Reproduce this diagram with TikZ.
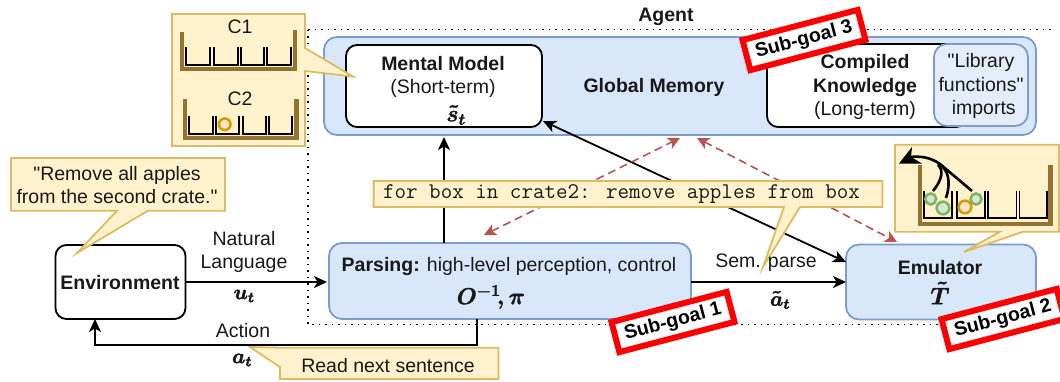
\RequirePackage{fix-cm}
\documentclass[tikz,border=0pt]{standalone}
\usepackage{amsmath,amsbsy}
\usepackage{fontspec}
\setmainfont{Liberation Sans}[Ligatures=TeXOff]
\usetikzlibrary{arrows.meta}
\definecolor{bluefill}{HTML}{D9E7FB}
\definecolor{bluestroke}{HTML}{7C9CCB}
\definecolor{libfill}{HTML}{E5EDFB}
\definecolor{notefill}{HTML}{FFF2CC}
\definecolor{notestroke}{HTML}{DDBB62}
\definecolor{wood}{HTML}{947230}
\definecolor{reddash}{HTML}{B85450}
\definecolor{greenfill}{HTML}{D5E8D4}
\definecolor{greenstroke}{HTML}{82B366}
\definecolor{orangefill}{HTML}{FFE6CC}
\definecolor{orangestroke}{HTML}{D79B00}
\definecolor{goalred}{HTML}{FF0000}
\newcommand{\fs}{\fontsize{19.5}{23.4}\selectfont}
\newcommand{\fatm}[1]{\special{pdf:code 2 Tr 0.4 w}#1\special{pdf:code 0 Tr 1 w}}
\tikzset{
  every node/.style={inner sep=0pt,outer sep=0pt,align=center,font=\fs,text=black!90},
  box/.style={draw=black,line width=1.8pt,fill=white,rounded corners=11pt},
  bluebox/.style={draw=bluestroke,line width=1.8pt,fill=bluefill,rounded corners=13pt},
  libbox/.style={draw=bluestroke,line width=1.8pt,fill=libfill,rounded corners=13pt},
  arr/.style={draw=black,line width=1.8pt,-{Stealth[length=13pt,width=12pt,inset=3.5pt]}},
  arrboth/.style={draw=black,line width=1.8pt,{Stealth[length=13pt,width=12pt,inset=3.5pt]}-{Stealth[length=13pt,width=12pt,inset=3.5pt]}},
  reddashed/.style={draw=reddash,line width=1.6pt,dash pattern=on 8pt off 5pt,{Stealth[length=12pt,width=12pt,inset=3pt]}-{Stealth[length=12pt,width=12pt,inset=3pt]}},
  note/.style={draw=notestroke,line width=1.8pt,fill=notefill},
  crate/.style={draw=wood,line width=4.5pt,miter limit=10},
  slot/.style={draw=black,line width=1.2pt},
  greenball/.style={draw=greenstroke,line width=2.6pt,fill=greenfill},
  orangeball/.style={draw=orangestroke,line width=2.6pt,fill=orangefill},
  goal/.style={draw=goalred,line width=6pt,fill=white,minimum width=119pt,minimum height=31pt,rotate=14.7,font=\bfseries\fs,text=black},
  curve/.style={draw=black,line width=2.6pt},
}
\begin{document}
\begin{tikzpicture}[x=1pt,y=-1pt]
\clip (0,0) rectangle (1060,381);
\fill[white] (0,0) rectangle (1060,381);

% agent frame
\draw[line width=1.4pt,dash pattern=on 1.5pt off 5pt] (308,29.5) -- (1055,29.5);
\draw[line width=1.4pt,dash pattern=on 1.5pt off 5pt] (308,29.5) -- (308,324.5) -- (1055,324.5);
\node (agent) at (666,17) {\bfseries Agent};

% boxes
\node[bluebox,minimum width=712pt,minimum height=98pt] (gm) at (680,86) {};
\node[box,minimum width=196pt,minimum height=82pt] (mental) at (444,86) {};
\node[box,minimum width=200pt,minimum height=83pt] (compiled) at (867,85.5) {};
\node[libbox,minimum width=94pt,minimum height=82pt] (lib) at (981,85) {};
\node[bluebox,minimum width=362pt,minimum height=76pt] (parse) at (510,281) {};
\node[bluebox,minimum width=190pt,minimum height=75pt] (emu) at (941,282) {};
\node[box,minimum width=130pt,minimum height=74pt] (env) at (120.5,282) {};

\node (mentaltxt) at (443,64) {\bfseries Mental Model};
\node (mentaltxt2) at (443,88) {(Short-term)};
\node (mentalmath) at (456,115) {\fontsize{23}{26}\selectfont\fatm{$\boldsymbol{\tilde{s}_t}$}};
\node (gmtxt) at (654,87) {\bfseries Global Memory};
\node (comptxt) at (865,87) {\bfseries Compiled\\\bfseries Knowledge\\(Long-term)};
\node (libtxt) at (981,86) {"Library\\functions"\\ \ imports};
\node (envtxt) at (120,283) {\bfseries Environment};
\node (parsetxt) at (509,266) {\textbf{Parsing:} high-level perception, control};
\node (parsemath) at (491,297) {\fontsize{23}{28}\selectfont\fatm{$\boldsymbol{O^{-1}}\!\boldsymbol{,\pi}$}};
\node (emutxt) at (940,268) {\bfseries Emulator};
\node (emumath) at (940,293) {\fontsize{24}{28}\selectfont\fatm{$\boldsymbol{\tilde{T}}$}};

% connectors
\coordinate (acta) at (477,345);
\coordinate (actb) at (95,345);
\coordinate (mmout) at (543,121);
\coordinate (emuin) at (846,262);
\draw[arr,shorten >=2pt] (env.east) -- (env.east -| parse.west);
\draw[arr] (parse.south -| acta) -- (acta) -- (actb) -- (env.south -| actb);
\draw[arr,shorten >=2pt] (parse.north -| mental.south) -- (gm.south -| mental.south);
\draw[arr] (parse.east |- emu.west) -- (emu.west);
\draw[arrboth] (mmout) -- (emuin);

\coordinate (ra) at (484,235);
\coordinate (rb) at (680,138);
\coordinate (rc) at (697,138);
\coordinate (rd) at (897,242);
\draw[reddashed] (ra) -- (rb);
\draw[reddashed] (rc) -- (rd);

\node (nat) at (244,252) {Natural\\Language};
\node (ut) at (244,296) {\fontsize{21}{24}\selectfont\fatm{$\boldsymbol{u_t}$}};
\node (action) at (243,331) {Action};
\node (at) at (242,360) {\fontsize{21}{24}\selectfont\fatm{$\boldsymbol{a_t}$}};
\node (at2) at (780,300) {\fontsize{21}{24}\selectfont\fatm{$\boldsymbol{\tilde{a}_t}$}};

% callouts
\draw[note] (11,158) -- (225,158) -- (225,210.7) -- (148,210.7) -- (77,253) -- (117,210.7) -- (11,210.7) -- cycle;
\node (removetxt) at (117,185) {"Remove all apples\\from the second crate."};

\draw[note] (280,347.7) -- (250,347) -- (280,367) -- (280,379) -- (498.5,379) -- (498.5,347.7) -- cycle;
\node (readtxt) at (388,366) {Read next sentence};

\draw[note] (373.6,181) -- (882.5,181) -- (882.5,207) -- (800,207) -- (763,267) -- (784,207) -- (373.6,207) -- cycle;
\node (codetxt) at (621.5,194) {\fontsize{22.4}{26}\selectfont\ttfamily for box in crate2: remove apples from box};
\node (sem) at (766,263) {Sem. parse};

% C1/C2 callout
\draw[note] (172,14) -- (305,14) -- (305,48) -- (353,76.5) -- (305,71) -- (305,146) -- (172,146) -- cycle;
\node (c1) at (240,27) {C1};
\node (c2) at (240,99) {C2};
\draw[crate] (182,32) -- (182,69) -- (295,69) -- (295,30);
\draw[crate] (185,99) -- (185,138) -- (296.5,138) -- (296.5,99);
\foreach \a/\b in {186/210,214/238,241/264,267/291}{
  \draw[slot] (\a,47) -- (\a,65) -- (\b,65) -- (\b,47);
}
\foreach \a/\b in {189/213,216/239,243/266,269/292}{
  \draw[slot] (\a,116) -- (\a,134) -- (\b,134) -- (\b,116);
}
\draw[orangeball] (224.7,124.3) circle (5.8pt);

% Emulator callout
\draw[note] (895,144.7) -- (1059,144.7) -- (1059,231.7) -- (1023,231.7) -- (964,252) -- (1000,231.7) -- (895,231.7) -- cycle;
\draw[crate] (920,165) -- (920,224) -- (1050.7,224) -- (1050.7,165);
\foreach \a/\b in {924/952,957/985,988/1016.5,1019.5/1047}{
  \draw[slot] (\a,191) -- (\a,218) -- (\b,218) -- (\b,191);
}
\draw[greenball] (930.7,199) circle (5.5pt);
\draw[greenball] (943,208) circle (6.3pt);
\draw[greenball] (976,199) circle (5.5pt);
\draw[orangeball] (965,207) circle (6.3pt);
\draw[curve] (933,191) .. controls (942,180) and (944,170) .. (938,165);
\draw[curve] (946,198) .. controls (951,182) and (949,170) .. (938,163);
\draw[curve] (972,191) -- (940,164) .. controls (930,157) and (920,156) .. (910,157);
\fill[black] (899,163.5) -- (912,147) -- (911,157) -- (922,163.5) -- cycle;

% sub goals
\node[goal] (g3) at (804,40) {Sub-goal 3};
\node[goal] (g1) at (673,322) {Sub-goal 1};
\node[goal] (g2) at (1003,319) {Sub-goal 2};
\end{tikzpicture}
\end{document}
